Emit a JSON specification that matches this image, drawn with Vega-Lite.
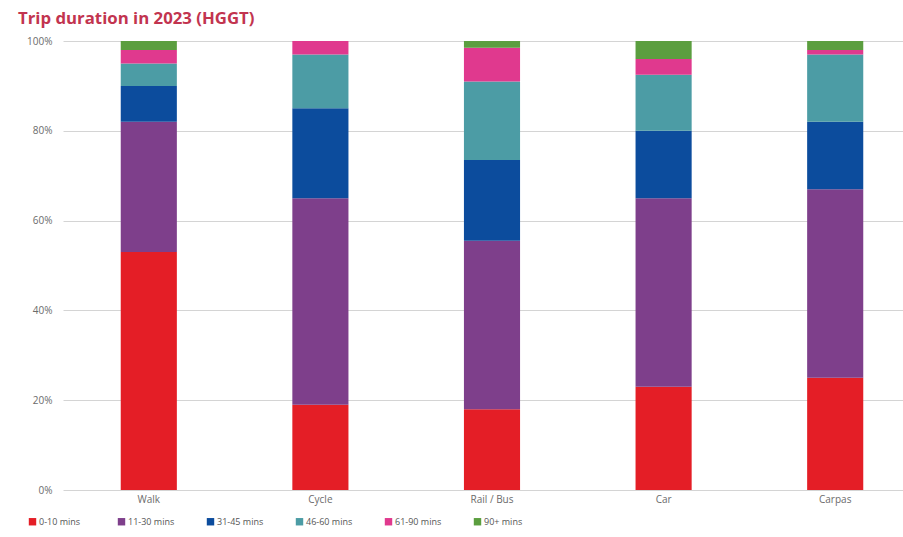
{
  "$schema": "https://vega.github.io/schema/vega-lite/v6.json",
  "width": 858,
  "height": 449,
  "autosize": {"type": "none"},
  "padding": {"left": 63, "top": 41, "right": 0, "bottom": 47},
  "background": "white",
  "title": {
    "text": "Trip duration in 2023 (HGGT)",
    "anchor": "start",
    "frame": "group",
    "dx": -45,
    "offset": 8,
    "font": "Open Sans",
    "fontSize": 16.8,
    "fontWeight": "bold",
    "color": "#C2344F"
  },
  "config": {
    "view": {"stroke": null},
    "font": "Open Sans"
  },
  "data": {
    "values": [
      {"mode": "Walk", "duration": "0-10 mins", "share": 53},
      {"mode": "Walk", "duration": "11-30 mins", "share": 29},
      {"mode": "Walk", "duration": "31-45 mins", "share": 8},
      {"mode": "Walk", "duration": "46-60 mins", "share": 5},
      {"mode": "Walk", "duration": "61-90 mins", "share": 3},
      {"mode": "Walk", "duration": "90+ mins", "share": 2},
      {"mode": "Cycle", "duration": "0-10 mins", "share": 19},
      {"mode": "Cycle", "duration": "11-30 mins", "share": 46},
      {"mode": "Cycle", "duration": "31-45 mins", "share": 20},
      {"mode": "Cycle", "duration": "46-60 mins", "share": 12},
      {"mode": "Cycle", "duration": "61-90 mins", "share": 3},
      {"mode": "Cycle", "duration": "90+ mins", "share": 0},
      {"mode": "Rail / Bus", "duration": "0-10 mins", "share": 18},
      {"mode": "Rail / Bus", "duration": "11-30 mins", "share": 37.5},
      {"mode": "Rail / Bus", "duration": "31-45 mins", "share": 18},
      {"mode": "Rail / Bus", "duration": "46-60 mins", "share": 17.5},
      {"mode": "Rail / Bus", "duration": "61-90 mins", "share": 7.5},
      {"mode": "Rail / Bus", "duration": "90+ mins", "share": 1.5},
      {"mode": "Car", "duration": "0-10 mins", "share": 23},
      {"mode": "Car", "duration": "11-30 mins", "share": 42},
      {"mode": "Car", "duration": "31-45 mins", "share": 15},
      {"mode": "Car", "duration": "46-60 mins", "share": 12.5},
      {"mode": "Car", "duration": "61-90 mins", "share": 3.5},
      {"mode": "Car", "duration": "90+ mins", "share": 4},
      {"mode": "Carpas", "duration": "0-10 mins", "share": 25},
      {"mode": "Carpas", "duration": "11-30 mins", "share": 42},
      {"mode": "Carpas", "duration": "31-45 mins", "share": 15},
      {"mode": "Carpas", "duration": "46-60 mins", "share": 15},
      {"mode": "Carpas", "duration": "61-90 mins", "share": 1},
      {"mode": "Carpas", "duration": "90+ mins", "share": 2}
    ]
  },
  "mark": {"type": "bar"},
  "encoding": {
    "x": {
      "field": "mode",
      "type": "nominal",
      "sort": ["Walk", "Cycle", "Rail / Bus", "Car", "Carpas"],
      "scale": {"paddingInner": 0.673, "paddingOuter": 0.3365},
      "axis": {
        "title": null,
        "labelAngle": 0,
        "domain": false,
        "ticks": false,
        "labelPadding": 4,
        "labelFont": "Open Sans",
        "labelFontSize": 10,
        "labelColor": "#6b6b6b"
      }
    },
    "y": {
      "field": "share",
      "type": "quantitative",
      "stack": "zero",
      "scale": {"domain": [0, 100]},
      "axis": {
        "title": null,
        "values": [0, 20, 40, 60, 80, 100],
        "labelExpr": "datum.value + '%'",
        "domain": false,
        "ticks": false,
        "labelPadding": 11,
        "labelFont": "Open Sans",
        "labelFontSize": 10,
        "labelColor": "#6b6b6b",
        "gridColor": "#d4d4d4",
        "gridWidth": 1
      }
    },
    "color": {
      "field": "duration",
      "type": "nominal",
      "scale": {
        "domain": ["0-10 mins", "11-30 mins", "31-45 mins", "46-60 mins", "61-90 mins", "90+ mins"],
        "range": ["#E41E26", "#7E3F8B", "#0C4C9D", "#4C9CA5", "#E0398E", "#5B9E3F"]
      },
      "legend": {
        "title": null,
        "orient": "none",
        "legendX": -35,
        "legendY": 476,
        "direction": "horizontal",
        "columns": 6,
        "gridAlign": "all",
        "columnPadding": 31,
        "symbolType": "square",
        "symbolSize": 55,
        "symbolStrokeWidth": 0,
        "symbolOffset": 0,
        "labelOffset": 2,
        "labelFont": "Open Sans",
        "labelFontSize": 9,
        "labelColor": "#555555"
      }
    },
    "order": {"field": "duration", "sort": "ascending"}
  }
}
